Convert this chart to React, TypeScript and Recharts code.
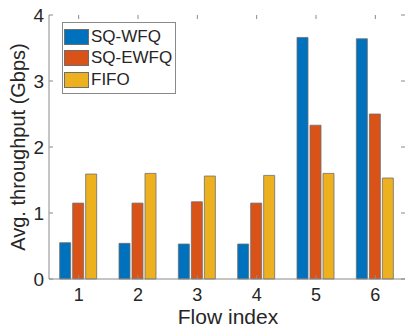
import React from "react";
import { BarChart, Bar, XAxis, YAxis, Legend } from "recharts";

// ─── Data ─────────────────────────────────────────────────────────────────────

const flows = ["1", "2", "3", "4", "5", "6"];
const sqWfq = [0.55, 0.54, 0.53, 0.53, 3.66, 3.64];
const sqEwfq = [1.15, 1.15, 1.17, 1.15, 2.33, 2.5];
const fifo = [1.59, 1.6, 1.56, 1.57, 1.6, 1.53];
const yTicks = [0, 1, 2, 3, 4];

const data = flows.map((flow, i) => ({
  flow,
  wfq: sqWfq[i],
  ewfq: sqEwfq[i],
  fifo: fifo[i],
}));

// ─── Style ────────────────────────────────────────────────────────────────────

const WIDTH = 407;
const HEIGHT = 333;
const MARGIN = { top: 15, right: 2, left: 0, bottom: 0 };
const Y_AXIS_W = 49;
const X_AXIS_H = 54;
const PLOT_TOP = MARGIN.top;
const PLOT_BOTTOM = HEIGHT - MARGIN.bottom - X_AXIS_H;
const PLOT_LEFT = MARGIN.left + Y_AXIS_W;
const PLOT_RIGHT = WIDTH - MARGIN.right;

const FONT = "'Liberation Sans', Arial, Helvetica, sans-serif";
const TEXT = "#262626";
const AXIS = "#8a8a8a";
const EDGE = "#6e6e6e";
const TICK_LEN = 4;

const series = [
  { key: "wfq", name: "SQ-WFQ", color: "#0072BD" },
  { key: "ewfq", name: "SQ-EWFQ", color: "#D95319" },
  { key: "fifo", name: "FIFO", color: "#EDB120" },
];

// ─── Axis pieces ──────────────────────────────────────────────────────────────

// inward ticks on bottom and top edges, label below
function XTick(props: any) {
  const { x, y, payload } = props;
  return (
    <g>
      <line x1={x} x2={x} y1={PLOT_BOTTOM} y2={PLOT_BOTTOM - TICK_LEN} stroke={AXIS} />
      <line x1={x} x2={x} y1={PLOT_TOP} y2={PLOT_TOP + TICK_LEN} stroke={AXIS} />
      <text x={x} y={y} dy="0.71em" textAnchor="middle" fill={TEXT} fontSize={18} fontFamily={FONT}>
        {payload.value}
      </text>
    </g>
  );
}

// inward ticks on left and right edges, label to the left
function YTick(props: any) {
  const { x, y, payload } = props;
  return (
    <g>
      <line x1={PLOT_LEFT} x2={PLOT_LEFT + TICK_LEN} y1={y} y2={y} stroke={AXIS} />
      <line x1={PLOT_RIGHT} x2={PLOT_RIGHT - TICK_LEN} y1={y} y2={y} stroke={AXIS} />
      <text x={x} y={y} dy="0.355em" textAnchor="end" fill={TEXT} fontSize={19} fontFamily={FONT}>
        {payload.value}
      </text>
    </g>
  );
}

function YLabel({ viewBox }: any) {
  const cx = viewBox.x + 25;
  const cy = viewBox.y + viewBox.height / 2;
  return (
    <text
      x={cx}
      y={cy}
      transform={`rotate(-90, ${cx}, ${cy})`}
      textAnchor="middle"
      fill={TEXT}
      fontSize={20}
      fontFamily={FONT}
    >
      Avg. throughput (Gbps)
    </text>
  );
}

function XLabel({ viewBox }: any) {
  return (
    <text
      x={viewBox.x + viewBox.width / 2 + 1}
      y={viewBox.y + 45}
      textAnchor="middle"
      fill={TEXT}
      fontSize={21}
      fontFamily={FONT}
    >
      Flow index
    </text>
  );
}

function LegendBox() {
  return (
    <div
      style={{
        border: `1px solid ${AXIS}`,
        background: "#fff",
        width: 114,
        padding: "3px 0 2px 1px",
        fontFamily: FONT,
        fontSize: 17,
        color: TEXT,
        boxSizing: "border-box",
      }}
    >
      {series.map((s) => (
        <div key={s.key} style={{ display: "flex", alignItems: "center", height: 21.5 }}>
          <span
            style={{
              width: 25,
              height: 16,
              background: s.color,
              border: `1px solid ${EDGE}`,
              boxSizing: "border-box",
              marginRight: 2,
            }}
          />
          <span>{s.name}</span>
        </div>
      ))}
    </div>
  );
}

// ─── Component ────────────────────────────────────────────────────────────────

export default function App() {
  return (
    <div style={{ position: "absolute", left: 0, top: 0, background: "#fff" }}>
      <BarChart
        width={WIDTH}
        height={HEIGHT}
        data={data}
        margin={MARGIN}
        barCategoryGap="18%"
        barGap={2}
      >
        <XAxis
          dataKey="flow"
          height={X_AXIS_H}
          tickLine={false}
          tickSize={0}
          tickMargin={9}
          axisLine={{ stroke: AXIS }}
          tick={XTick}
          label={XLabel}
        />
        <XAxis
          xAxisId="top"
          dataKey="flow"
          orientation="top"
          height={0}
          tick={false}
          tickLine={false}
          axisLine={{ stroke: AXIS }}
        />
        <YAxis
          width={Y_AXIS_W}
          domain={[0, 4]}
          ticks={yTicks}
          tickLine={false}
          tickSize={0}
          tickMargin={5}
          axisLine={{ stroke: AXIS }}
          tick={YTick}
          label={YLabel}
        />
        <YAxis
          yAxisId="right"
          orientation="right"
          width={0}
          domain={[0, 4]}
          tick={false}
          tickLine={false}
          axisLine={{ stroke: AXIS }}
        />

        <Legend
          layout="vertical"
          align="center"
          verticalAlign="middle"
          content={LegendBox}
          wrapperStyle={{ left: 62, top: 22, width: 114, height: "auto" }}
        />

        {series.map((s) => (
          <Bar
            key={s.key}
            dataKey={s.key}
            name={s.name}
            fill={s.color}
            stroke={EDGE}
            strokeWidth={0.8}
            isAnimationActive={false}
          />
        ))}
      </BarChart>
    </div>
  );
}
